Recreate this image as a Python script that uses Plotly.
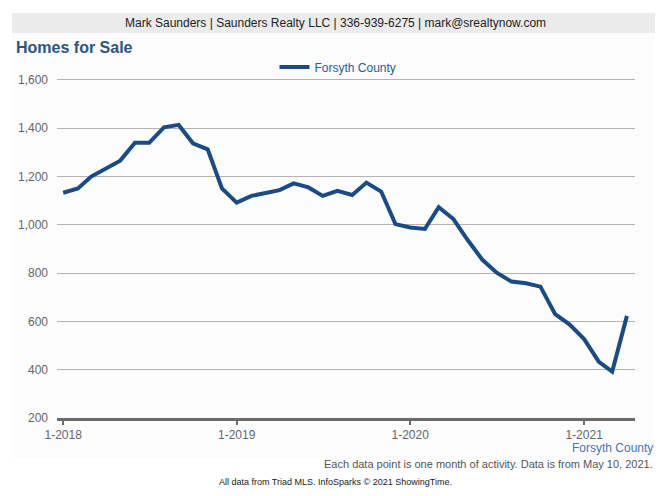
import plotly.graph_objects as go

months = [
    "2018-01-01", "2018-02-01", "2018-03-01", "2018-04-01", "2018-05-01", "2018-06-01",
    "2018-07-01", "2018-08-01", "2018-09-01", "2018-10-01", "2018-11-01", "2018-12-01",
    "2019-01-01", "2019-02-01", "2019-03-01", "2019-04-01", "2019-05-01", "2019-06-01",
    "2019-07-01", "2019-08-01", "2019-09-01", "2019-10-01", "2019-11-01", "2019-12-01",
    "2020-01-01", "2020-02-01", "2020-03-01", "2020-04-01", "2020-05-01", "2020-06-01",
    "2020-07-01", "2020-08-01", "2020-09-01", "2020-10-01", "2020-11-01", "2020-12-01",
    "2021-01-01", "2021-02-01", "2021-03-01", "2021-04-01",
]
forsyth = [
    1133, 1151, 1200, 1234, 1266, 1340, 1340, 1404, 1414, 1338, 1313, 1151,
    1092, 1120, 1133, 1144, 1172, 1155, 1120, 1141, 1124, 1175, 1138, 1003,
    989, 983, 1073, 1024, 937, 855, 802, 765, 758, 744, 630, 588,
    527, 433, 392, 623,
]
y_ticks = [200, 400, 600, 800, 1000, 1200, 1400, 1600]
x_ticks = ["2018-01-01", "2019-01-01", "2020-01-01", "2021-01-01"]
x_tick_text = ["1-2018", "1-2019", "1-2020", "1-2021"]

FONT = "Liberation Sans, Arial, sans-serif"
W, H = 671, 496
L, R, T, B = 57, 36, 77, 78
pw, ph = W - L - R, H - T - B

def px(x):
    return (x - L) / pw

def py(y):
    return (H - B - y) / ph

fig = go.Figure()
fig.add_trace(go.Scatter(
    x=months, y=forsyth, mode="lines", name="Forsyth County",
    line=dict(color="#1b4b84", width=4),
))

fig.update_layout(
    width=W, height=H,
    margin=dict(l=L, r=R, t=T, b=B, pad=0),
    paper_bgcolor="white",
    plot_bgcolor="rgba(0,0,0,0)",
    font=dict(family=FONT, size=12, color="#666666"),
    showlegend=True,
    legend=dict(
        orientation="h", x=px(338), xanchor="center", y=py(67), yanchor="middle",
        font=dict(family=FONT, size=12, color="#2c5a96"),
        bgcolor="rgba(0,0,0,0)",
    ),
    xaxis=dict(
        type="date",
        range=["2017-12-19", "2021-04-18"],
        tickvals=x_ticks, ticktext=x_tick_text,
        showgrid=False, zeroline=False,
        showline=True, linecolor="#6b6b6b", linewidth=3,
        ticks="outside", ticklen=4, tickwidth=2, tickcolor="#6b6b6b",
        tickfont=dict(family=FONT, size=12, color="#666666"),
    ),
    yaxis=dict(
        range=[200, 1612.4],
        tickvals=y_ticks, tickformat=",",
        showgrid=True, gridcolor="#b3b3b3", gridwidth=1,
        zeroline=False, showline=False, ticks="",
        ticklabelstandoff=8,
        tickfont=dict(family=FONT, size=12, color="#666666"),
    ),
)

shapes = [
    dict(type="rect", xref="paper", yref="paper", layer="below",
         x0=px(12), x1=px(655), y0=py(458), y1=py(33),
         fillcolor="#fcfcfc", line=dict(width=0)),
    dict(type="rect", xref="paper", yref="paper", layer="below",
         x0=px(12), x1=px(655), y0=py(33), y1=py(13),
         fillcolor="#ebebeb", line=dict(width=0)),
]
fig.update_layout(shapes=shapes)

annotations = [
    dict(text="Mark Saunders | Saunders Realty LLC | 336-939-6275 | mark@srealtynow.com",
         x=px(335.5), y=py(23), xanchor="center", yanchor="middle",
         font=dict(family=FONT, size=12, color="#222222")),
    dict(text="<b>Homes for Sale</b>", x=px(14), y=py(47), xanchor="left", yanchor="middle",
         font=dict(family=FONT, size=16, color="#2b5584")),
    dict(text="Forsyth County", x=px(655), y=py(448), xanchor="right", yanchor="middle",
         font=dict(family=FONT, size=12, color="#4a76ad")),
    dict(text="Each data point is one month of activity. Data is from May 10, 2021.",
         x=px(655), y=py(464), xanchor="right", yanchor="middle",
         font=dict(family=FONT, size=11, color="#555555")),
    dict(text="All data from Triad MLS. InfoSparks © 2021 ShowingTime.",
         x=px(335.5), y=py(482), xanchor="center", yanchor="middle",
         font=dict(family=FONT, size=9, color="#222222")),
]
for a in annotations:
    a.update(xref="paper", yref="paper", showarrow=False)
fig.update_layout(annotations=annotations)

fig.write_html("out.html")
